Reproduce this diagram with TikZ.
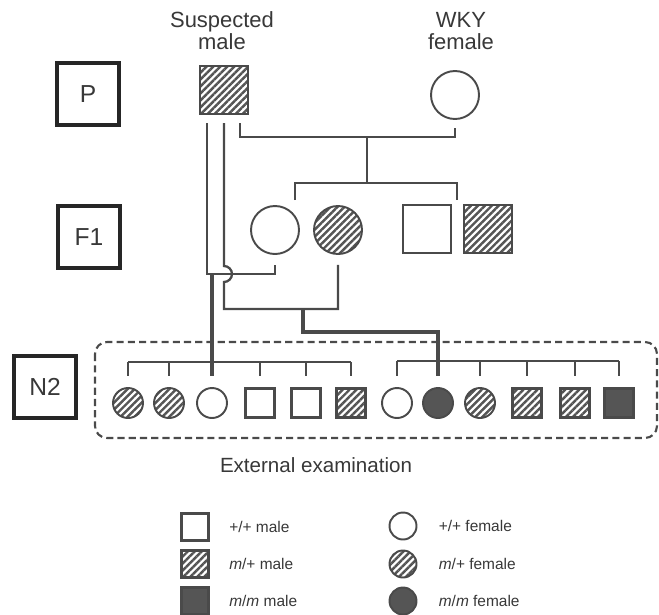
\documentclass[tikz,border=0pt]{standalone}
\usepackage{fontspec}
\setmainfont{Liberation Sans}
\usetikzlibrary{
  positioning,
  calc,
  patterns.meta
}
\definecolor{pedgray}{HTML}{4A4A4A}
\definecolor{pedfill}{HTML}{555555}
\definecolor{pedtext}{HTML}{383838}
\tikzset{
  male/.style={
    rectangle, draw=pedgray, line width=1.6pt,
    minimum size=#1, inner sep=0pt
  },
  male/.default=0.96cm,
  female/.style={
    circle, draw=pedgray, line width=1.1pt,
    minimum size=#1, inner sep=0pt
  },
  female/.default=0.96cm,
  hatch/.style={pattern={Lines[angle=45, distance=2.8pt, line width=1.4pt]}, pattern color=pedfill},
  genbox/.style={
    rectangle, draw=black!85, line width=2pt,
    minimum size=1.24cm, text=pedtext,
    font=\fontsize{14}{14}\selectfont
  },
  link/.style={draw=pedgray, line width=1.3pt},
  thicklink/.style={draw=pedgray, line width=1.8pt},
}

\begin{document}
\begin{tikzpicture}[
  x=0.2mm, y=-0.2mm,
  toplabel/.style={align=center, inner sep=0pt, anchor=south, text=pedtext, font=\fontsize{12.5}{12.5}\selectfont},
  legtext/.style={inner sep=0pt, text=pedtext, font=\fontsize{8.8}{10}\selectfont},
  kidWM/.style={male=0.59cm},
  kidCM/.style={male=0.59cm, hatch},
  kidAM/.style={male=0.59cm, fill=pedfill},
  kidWF/.style={female=0.6cm},
  kidCF/.style={female=0.6cm, hatch},
  kidAF/.style={female=0.6cm, fill=pedfill},
]
\useasboundingbox (0,0) rectangle (659,614);

% Generation labels
\node[genbox] (genP) at (88,94) {P};
\node[genbox] (genF) at (89,237) {F1};
\node[genbox] (genN) at (45,387) {N2};

% Parents
\node[male, hatch] (sire) at (224,90) {};
\node[female] (dam) at (455,95) {};
\node[toplabel] (sirelbl) at (222,50) {Suspected\\male};
\node[toplabel] (damlbl) at (461,50) {WKY\\female};

% F1 generation
\node[female] (f1a) at (275,230) {};
\node[female, hatch] (f1b) at (338,230) {};
\node[male] (f1c) at (427,229) {};
\node[male, hatch] (f1d) at (488,229) {};

% N2 offspring (external examination)
\draw[pedgray, line width=1.2pt, dash pattern=on 4pt off 2.4pt, rounded corners=2.4mm]
  (95,342) rectangle (657,438);
\foreach \x/\k [count=\i] in {128/kidCF,169/kidCF,212/kidWF,260/kidWM,306/kidWM,351/kidCM,397/kidWF,438/kidAF,480/kidCF,527/kidCM,575/kidCM,619/kidAM}
  \node[\k] (c\i) at (\x,403) {};
\node[text=pedtext, font=\fontsize{11.7}{12}\selectfont] (examlbl) at (316,465) {External examination};

% P mating and F1 sibship
\coordinate (matP) at (367,137);
\coordinate (sibF) at (367,183);
\coordinate (dropA) at (295,200);
\coordinate (dropB) at (457,200);
\draw[link] ($(sire.south)+(16,8)$) |- (matP) -| ($(dam.south)+(0,8)$);
\draw[link] (matP) -- (sibF);
\draw[link] (dropA) |- (sibF) -| (dropB);

% backcross matings
\coordinate (matA) at (212,274);
\coordinate (matB) at (303,309);
\draw[link] ($(sire.south)+(-17,8)$) |- (matA) -| ($(f1a.south)+(0,10)$);
\draw[link] ($(sire.south)+(0,8)$) -- ($(sire.south |- matA)+(0,-8)$)
  arc[start angle=90, end angle=-90, radius=1.6mm] |- (matB) -| ($(f1b.south)+(0,10)$);
\draw[thicklink] (matA) -- ($(c3.north)+(0,-11)$);
\draw[thicklink] (matB) -- ++(0,23) -| ($(c8.north)+(0,-11)$);

% N2 sibships
\coordinate (sibL) at (0,362);
\coordinate (sibR) at (0,361);
\foreach \i in {1,...,6}
  \draw[link] (c\i.north |- sibL) -- ($(c\i.north)+(0,-11)$);
\foreach \i in {7,...,12}
  \draw[link] (c\i.north |- sibR) -- ($(c\i.north)+(0,-11)$);
\draw[link] (c1.north |- sibL) -- (c6.north |- sibL);
\draw[link] (c7.north |- sibR) -- (c12.north |- sibR);

% Legend
\node[male=0.54cm] (lgA) at (195,527) {};
\node[male=0.54cm, hatch] (lgB) at (195,564) {};
\node[male=0.54cm, fill=pedfill] (lgC) at (195,601) {};
\node[female=0.54cm] (lgD) at (403,526) {};
\node[female=0.54cm, hatch] (lgE) at (403,564) {};
\node[female=0.54cm, fill=pedfill] (lgF) at (403,601) {};
\node[legtext, right=0.38cm of lgA] (txA) {+/+ male};
\node[legtext, right=0.38cm of lgB] (txB) {\textit{m}/+ male};
\node[legtext, right=0.38cm of lgC] (txC) {\textit{m}/\textit{m} male};
\node[legtext, right=0.42cm of lgD] (txD) {+/+ female};
\node[legtext, right=0.42cm of lgE] (txE) {\textit{m}/+ female};
\node[legtext, right=0.42cm of lgF] (txF) {\textit{m}/\textit{m} female};

\end{tikzpicture}
\end{document}
